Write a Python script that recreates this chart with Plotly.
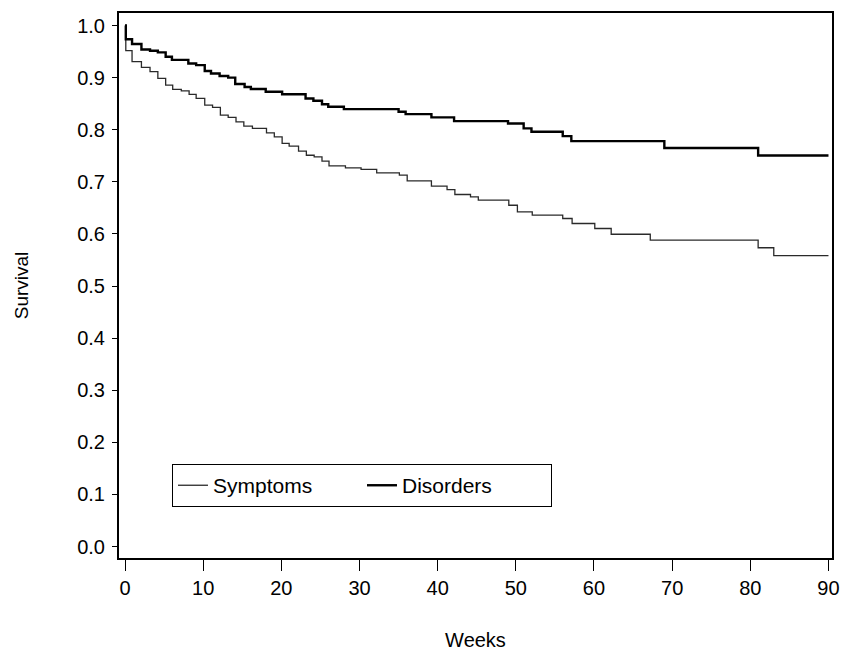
import plotly.graph_objects as go

# Kaplan-Meier style survival curves (weeks, survival)
disorders_weeks = [0, 0.1, 0.9, 2.1, 3.2, 4.2, 5.2, 6.0, 8.1, 9.1, 10.2, 11.0, 12.1, 13.2,
                   14.1, 15.3, 16.1, 18.0, 20.1, 23.1, 24.1, 25.2, 26.0, 28.0, 35.0, 35.9,
                   39.2, 42.1, 49.0, 51.0, 52.0, 56.0, 57.1, 69.0, 81.0, 90.0]
disorders_surv = [1.0, 0.9735, 0.9645, 0.954, 0.9516, 0.9485, 0.940, 0.934, 0.927, 0.924,
                  0.9126, 0.908, 0.903, 0.900, 0.8876, 0.882, 0.878, 0.873, 0.868, 0.860,
                  0.8556, 0.849, 0.844, 0.8396, 0.8344, 0.830, 0.8236, 0.8165, 0.812,
                  0.8025, 0.796, 0.7877, 0.778, 0.765, 0.7506, 0.7506]

symptoms_weeks = [0, 0.1, 0.9, 2.1, 3.2, 4.2, 5.2, 6.1, 7.2, 8.2, 9.1, 10.2, 11.2, 12.2,
                  13.2, 14.2, 15.2, 16.3, 18.1, 19.1, 20.1, 21.0, 22.2, 23.2, 24.2, 25.2,
                  26.1, 28.2, 30.2, 32.2, 35.1, 36.1, 39.2, 41.2, 42.2, 44.2, 45.2, 49.1,
                  50.2, 52.1, 56.0, 57.2, 60.1, 62.2, 67.2, 81.0, 83.0, 90.0]
symptoms_surv = [1.0, 0.9516, 0.9305, 0.9196, 0.9113, 0.8985, 0.8857, 0.8774, 0.8747,
                 0.868, 0.860, 0.847, 0.843, 0.828, 0.8236, 0.815, 0.807, 0.8025, 0.794,
                 0.7864, 0.7737, 0.7685, 0.759, 0.751, 0.748, 0.7397, 0.7306, 0.7268,
                 0.7237, 0.717, 0.7128, 0.7018, 0.6916, 0.685, 0.6757, 0.671, 0.6647,
                 0.655, 0.6423, 0.636, 0.6296, 0.620, 0.6104, 0.5994, 0.5879, 0.5735,
                 0.5585, 0.5585]

x_ticks = [0, 10, 20, 30, 40, 50, 60, 70, 80, 90]
y_ticks = [0.0, 0.1, 0.2, 0.3, 0.4, 0.5, 0.6, 0.7, 0.8, 0.9, 1.0]

FONT = "Liberation Sans, Arial, sans-serif"

fig = go.Figure()
fig.add_trace(go.Scatter(x=symptoms_weeks, y=symptoms_surv, mode="lines", name="Symptoms",
                         line=dict(shape="hv", color="#2a2a2a", width=1.3)))
fig.add_trace(go.Scatter(x=disorders_weeks, y=disorders_surv, mode="lines", name="Disorders",
                         line=dict(shape="hv", color="#000000", width=2.4)))

fig.update_layout(
    width=841, height=651,
    margin=dict(l=119, r=8.5, t=13, b=93),
    paper_bgcolor="white", plot_bgcolor="white",
    font=dict(family=FONT, color="black", size=20),
    showlegend=True,
    legend=dict(orientation="h", x=0.0743, y=0.0934, xanchor="left", yanchor="bottom",
                bordercolor="black", borderwidth=1, bgcolor="white",
                font=dict(size=21, family=FONT), entrywidth=144, entrywidthmode="pixels"),
)
fig.update_xaxes(range=[-0.77, 90.45], tickvals=x_ticks, ticktext=[str(v) for v in x_ticks],
                 ticks="outside", ticklen=11, tickwidth=1, tickcolor="black",
                 showline=True, linecolor="black", linewidth=2, mirror=True,
                 showgrid=False, zeroline=False, tickfont=dict(size=20), automargin=False,
                 title=dict(text="Weeks", font=dict(size=20), standoff=35))
fig.update_yaxes(range=[-0.022, 1.024], tickvals=y_ticks, ticktext=[f"{v:.1f}" for v in y_ticks],
                 ticks="outside", ticklen=5, tickwidth=1, tickcolor="black",
                 showline=True, linecolor="black", linewidth=2, mirror=True,
                 showgrid=False, zeroline=False, tickfont=dict(size=20), automargin=False,
                 ticklabelstandoff=3,
                 title=dict(text="Survival", font=dict(size=19), standoff=44))

# remove the default page margin so the figure sits at the window's top-left corner
fig.write_html("out.html",
               config={"displayModeBar": False},
               post_script="document.body.style.margin='0';document.body.style.overflow='hidden';")
